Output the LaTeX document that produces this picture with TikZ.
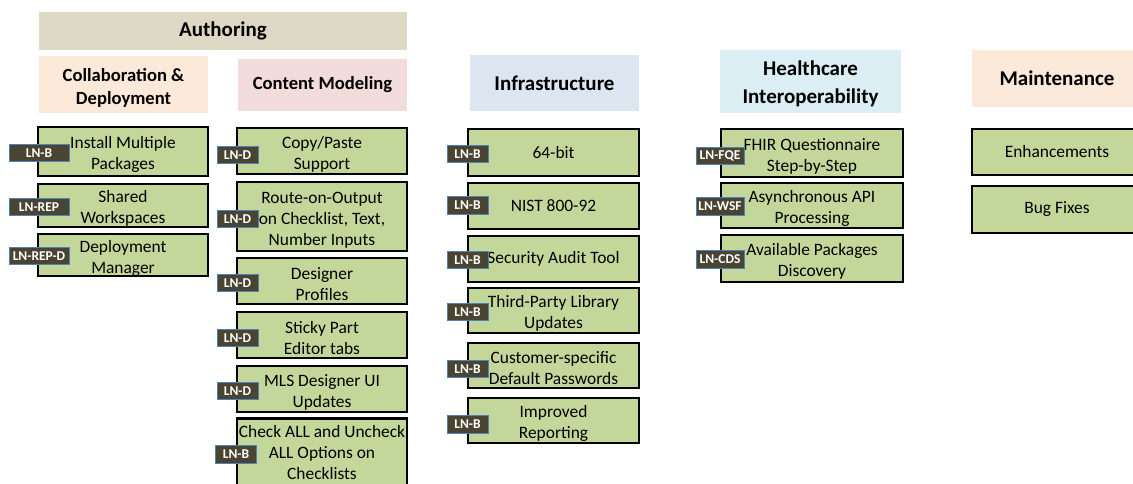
\documentclass[tikz,border=0pt]{standalone}
\usepackage{fontspec}
\setmainfont{Carlito}
\definecolor{boxgreen}{HTML}{C4D79B}
\definecolor{tagfill}{HTML}{4A4433}
\definecolor{tagedge}{HTML}{4F81BD}
\definecolor{hdrauth}{HTML}{DDD9C4}
\definecolor{hdrpeach}{HTML}{FDE9D9}
\definecolor{hdrpink}{HTML}{F2DCDB}
\definecolor{hdrblue}{HTML}{DCE6F1}
\definecolor{hdrcyan}{HTML}{DAEEF3}
\newcommand\firstln{\rule{0pt}{18pt}}
\newcommand\firsthd{\rule{0pt}{20pt}}
\newcommand\firsthh{\rule{0pt}{19.5pt}}
\tikzset{
  itembox/.style={draw=black, line width=2.9pt, fill=boxgreen, inner sep=0pt, align=center,
    font=\fontsize{17.4}{21}\selectfont, text=black},
  tagbox/.style={draw=tagedge, line width=1pt, fill=tagfill, inner sep=0.8pt, text=white,
    font=\fontsize{13.5}{15}\selectfont\bfseries, minimum height=17.5pt},
  hdrbox/.style={inner sep=0pt, align=center, font=\fontsize{21}{28}\selectfont\bfseries},
  subhdr/.style={inner sep=0pt, align=center, font=\fontsize{18.6}{23}\selectfont\bfseries},
}
\begin{document}
\begin{tikzpicture}[x=1pt,y=-1pt]
\clip (0,0) rectangle (1133,483);
\fill[white] (0,0) rectangle (1133,483);
% headers
\node[hdrbox, fill=hdrauth, minimum width=368pt, minimum height=38pt] (hauth) at (223,31) {Authoring};
\node[subhdr, fill=hdrpeach, minimum width=169pt, minimum height=57pt] (hcol) at (123.5,84.5) {\firsthd Collaboration \&\\Deployment};
\node[subhdr, fill=hdrpink, minimum width=169pt, minimum height=52pt] (hcon) at (322.5,85) {Content Modeling};
\node[hdrbox, fill=hdrblue, minimum width=169pt, minimum height=56pt] (hinf) at (554.5,83) {Infrastructure};
\node[hdrbox, fill=hdrcyan, minimum width=181pt, minimum height=63pt] (hhc) at (810.5,81.5) {\firsthh Healthcare\\Interoperability};
\node[hdrbox, fill=hdrpeach, minimum width=170pt, minimum height=57pt] (hmnt) at (1057,78.5) {Maintenance};
% column 1
\node[itembox, minimum width=170pt, minimum height=49pt] (c1a) at (123,151.5) {\firstln Install Multiple\\Packages};
\node[itembox, minimum width=170pt, minimum height=43pt] (c1b) at (123,205.5) {\firstln Shared\\Workspaces};
\node[itembox, minimum width=170pt, minimum height=40pt] (c1c) at (123,255) {\firstln Deployment\\Manager};
\node[tagbox, minimum width=60pt] (t1a) at (39,153) {LN-B};
\node[tagbox, minimum width=60pt] (t1b) at (39,207) {LN-REP};
\node[tagbox, minimum width=60pt] (t1c) at (39,256) {LN-REP-D};
% column 2
\node[itembox, minimum width=170pt, minimum height=46pt] (c2a) at (322,151) {\firstln Copy/Paste\\Support};
\node[itembox, minimum width=170pt, minimum height=69pt] (c2b) at (322,216.5) {\firstln Route-on-Output\\on Checklist, Text,\\Number Inputs};
\node[itembox, minimum width=170pt, minimum height=46pt] (c2c) at (322,281) {\firstln Designer\\Profiles};
\node[itembox, minimum width=170pt, minimum height=46pt] (c2d) at (322,335) {\firstln Sticky Part\\Editor tabs};
\node[itembox, minimum width=170pt, minimum height=46pt] (c2e) at (322,389) {\firstln MLS Designer UI\\Updates};
\node[itembox, minimum width=170pt, minimum height=69pt] (c2f) at (322,453) {Check ALL and Uncheck\\ALL Options on\\Checklists};
\node[tagbox, minimum width=41pt] (t2a) at (237.5,155) {LN-D};
\node[tagbox, minimum width=41pt] (t2b) at (237.5,219) {LN-D};
\node[tagbox, minimum width=41pt] (t2c) at (237.5,283) {LN-D};
\node[tagbox, minimum width=41pt] (t2d) at (237.5,338) {LN-D};
\node[tagbox, minimum width=41pt] (t2e) at (237.5,391) {LN-D};
\node[tagbox, minimum width=41pt] (t2f) at (236,454.5) {LN-B};
% column 3
\node[itembox, minimum width=171pt, minimum height=47pt] (c3a) at (553.5,152.5) {64-bit};
\node[itembox, minimum width=171pt, minimum height=46pt] (c3b) at (553.5,206) {NIST 800-92};
\node[itembox, minimum width=171pt, minimum height=46pt] (c3c) at (553.5,259) {Security Audit Tool};
\node[itembox, minimum width=171pt, minimum height=45pt] (c3d) at (553.5,310.5) {\firstln Third-Party Library\\Updates};
\node[itembox, minimum width=171pt, minimum height=45pt] (c3e) at (553.5,365.5) {\firstln Customer-specific\\Default Passwords};
\node[itembox, minimum width=171pt, minimum height=45pt] (c3f) at (553.5,420.5) {\firstln Improved\\Reporting};
\node[tagbox, minimum width=41pt] (t3a) at (467.5,154) {LN-B};
\node[tagbox, minimum width=41pt] (t3b) at (467.5,205.5) {LN-B};
\node[tagbox, minimum width=41pt] (t3c) at (467.5,260) {LN-B};
\node[tagbox, minimum width=41pt] (t3d) at (467.5,312) {LN-B};
\node[tagbox, minimum width=41pt] (t3e) at (467.5,369) {LN-B};
\node[tagbox, minimum width=41pt] (t3f) at (467.5,424.5) {LN-B};
% column 4
\node[itembox, minimum width=182pt, minimum height=48pt] (c4a) at (812,153) {\firstln FHIR Questionnaire\\Step-by-Step};
\node[itembox, minimum width=182pt, minimum height=45pt] (c4b) at (812,205.5) {\firstln Asynchronous API\\Processing};
\node[itembox, minimum width=182pt, minimum height=47pt] (c4c) at (812,258.5) {\firstln Available Packages\\Discovery};
\node[tagbox, minimum width=48pt] (t4a) at (720,156) {LN-FQE};
\node[tagbox, minimum width=48pt] (t4b) at (720,206.5) {LN-WSF};
\node[tagbox, minimum width=48pt] (t4c) at (720,259.5) {LN-CDS};
% column 5
\node[itembox, minimum width=170pt, minimum height=46pt] (c5a) at (1057,152) {Enhancements};
\node[itembox, minimum width=170pt, minimum height=47pt] (c5b) at (1057,209.5) {Bug Fixes};
\end{tikzpicture}
\end{document}
